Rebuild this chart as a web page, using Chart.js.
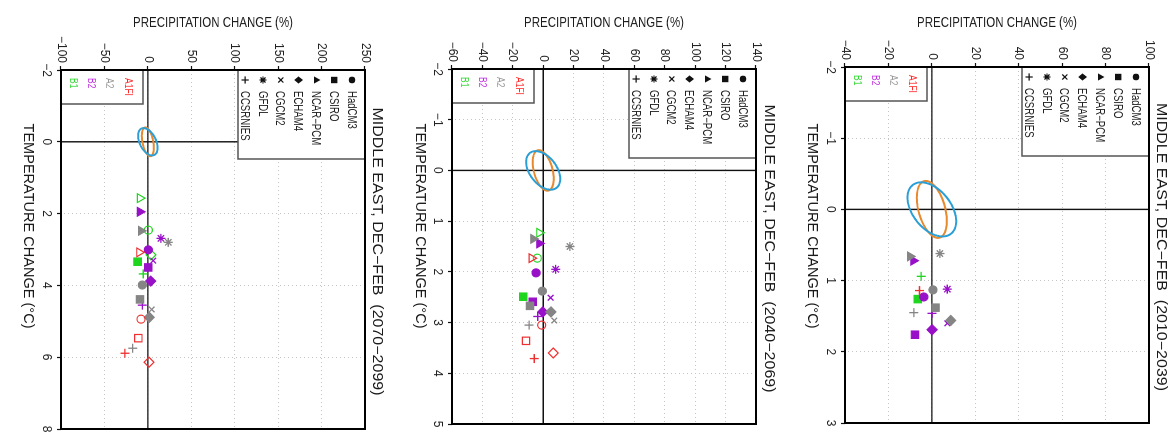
<!DOCTYPE html>
<html><head><meta charset="utf-8">
<script src="https://cdn.jsdelivr.net/npm/chart.js@4.4.1/dist/chart.umd.min.js"></script>
<style>
html,body{margin:0;padding:0;background:#fff;}
#wrap{position:relative;width:1176px;height:439px;overflow:hidden;background:#fff;}
.panel{position:absolute;top:0;width:392px;height:439px;}
.panel canvas{position:absolute;left:0;top:0;transform-origin:0 0;transform:translate(392px,0) rotate(90deg);}
</style></head><body>
<div id="wrap">
<div class="panel" style="left:0px"><canvas id="c1" width="439" height="392"></canvas></div>
<div class="panel" style="left:392px"><canvas id="c2" width="439" height="392"></canvas></div>
<div class="panel" style="left:784px"><canvas id="c3" width="439" height="392"></canvas></div>
</div>
<script>
// ---------- DATA ----------
const MODELS = ['HadCM3','CSIRO','NCAR−PCM','ECHAM4','CGCM2','GFDL','CCSRNIES'];
const SCENARIOS = ['A1FI','A2','B2','B1'];
const PERIODS = ['2070−2099','2040−2069','2010−2039'];
const REGION = 'MIDDLE EAST, DEC−FEB';

// axis ticks
const TEMP_TICKS_2070 = [-2,0,2,4,6,8];
const PRECIP_TICKS_2070 = [-100,-50,0,50,100,150,200,250];
const TEMP_TICKS_2040 = [-2,-1,0,1,2,3,4,5];
const PRECIP_TICKS_2040 = [-60,-40,-20,0,20,40,60,80,100,120,140];
const TEMP_TICKS_2010 = [-2,-1,0,1,2,3];
const PRECIP_TICKS_2010 = [-40,-20,0,20,40,60,80,100];

// values per model (order of MODELS); null = not plotted
// 2070-2099
const P2070_A1FI = [-7.9, -11.0, -9.9, 1.3, null, null, -26.4];
const T2070_A1FI = [4.94, 5.47, 3.08, 6.14, null, null, 5.89];
const P2070_A2   = [-6.4, -9.1, -7.9, 1.6, 4.4, 23.5, -17.5];
const T2070_A2   = [3.99, 4.39, 2.48, 4.89, 4.67, 2.80, 5.75];
const P2070_B2   = [0.5, 0.5, -9.1, 3.2, 6.2, 15.1, -6.4];
const T2070_B2   = [3.01, 3.50, 1.95, 3.88, 3.31, 2.69, 4.55];
const P2070_B1   = [0.5, -11.8, -9.1, 3.6, null, null, -5.3];
const T2070_B1   = [2.46, 3.34, 1.57, 3.15, null, null, 3.68];
// 2040-2069
const P2040_A1FI = [-1.0, -11.3, -7.6, 6.6, null, null, -5.9];
const T2040_A1FI = [3.05, 3.36, 1.73, 3.60, null, null, 3.71];
const P2040_A2   = [-0.6, -8.7, -6.5, 5.1, 7.3, 17.6, -9.3];
const T2040_A2   = [2.38, 2.67, 1.35, 2.79, 2.96, 1.50, 3.05];
const P2040_B2   = [-4.7, -6.9, -2.6, -0.3, 4.9, 8.2, -3.6];
const T2040_B2   = [2.02, 2.59, 1.44, 2.79, 2.51, 1.95, 2.88];
const P2040_B1   = [-3.9, -13.1, -2.6, null, null, null, null];
const T2040_B1   = [1.73, 2.49, 1.23, null, null, null, null];
// 2010-2039
const P2010_A1FI = [null, null, null, null, null, null, -5.7];
const T2010_A1FI = [null, null, null, null, null, null, 1.14];
const P2010_A2   = [0.5, 1.7, -10.0, 8.7, null, 3.7, -8.3];
const T2010_A2   = [1.13, 1.38, 0.66, 1.56, null, 0.62, 1.45];
const P2010_B2   = [-3.7, -7.8, -8.5, 0.1, 7.1, 7.1, 0.1];
const T2010_B2   = [1.23, 1.76, 0.72, 1.69, 1.60, 1.12, 1.46];
const P2010_B1   = [null, -6.5, null, null, null, null, -4.9];
const T2010_B1   = [null, 1.26, null, null, null, null, 0.94];

// natural-variability ellipses (orange, blue): half-ranges in data units and phase
const ELLIPSE_PRECIP_HALF = [6.9, 11.2];
const ELLIPSE_TEMP_HALF = [0.40, 0.38];
const ELLIPSE_PHASE_DEG = [66, 64];

// ---------- STYLE ----------
const FONT = "'Liberation Sans', Arial, sans-serif";
const SCEN_COLOR = {A1FI:'#ee3030', A2:'#858585', B2:'#9810c8', B1:'#1fd61f'};
const SCEN_TEXT_COLOR = {A1FI:'#ff2a2a', A2:'#9a9a9a', B2:'#c030e0', B1:'#30d830'};
const STYLES = ['circle','rect','triangle','rectRot','crossRot','star','cross'];
const RADII = [4, 5.2, 5, 5, 4, 4.5, 4.5];
const ELLIPSE_COLORS = ['#e8892e', '#2a9fd6'];

function dataset(scen, P, T) {
  const pts = [];
  P.forEach((p, i) => { if (p !== null && T[i] !== null) pts.push({x: T[i], y: p, m: i}); });
  const col = SCEN_COLOR[scen];
  const fill = pts.map(d => {
    if (scen === 'A1FI') return 'rgba(255,255,255,0)';
    if (scen === 'B1' && d.m !== 1) return 'rgba(255,255,255,0)';
    return col;
  });
  return {
    label: scen, data: pts,
    pointStyle: pts.map(d => STYLES[d.m]),
    pointRadius: pts.map(d => RADII[d.m]),
    pointBackgroundColor: fill,
    pointBorderColor: col,
    pointBorderWidth: pts.map(d => (STYLES[d.m].startsWith('cross') || STYLES[d.m]==='star') ? 1.3 : 1.2),
    showLine: false
  };
}

function drawMarker(ctx, style, x, y, r) {
  ctx.beginPath();
  if (style === 'circle') { ctx.arc(x, y, r, 0, Math.PI*2); ctx.fill(); }
  else if (style === 'rect') { ctx.rect(x-r, y-r, 2*r, 2*r); ctx.fill(); }
  else if (style === 'triangle') { ctx.moveTo(x, y-r*1.15); ctx.lineTo(x+r, y+r*0.7); ctx.lineTo(x-r, y+r*0.7); ctx.closePath(); ctx.fill(); }
  else if (style === 'rectRot') { ctx.moveTo(x, y-r*1.2); ctx.lineTo(x+r, y); ctx.lineTo(x, y+r*1.2); ctx.lineTo(x-r, y); ctx.closePath(); ctx.fill(); }
  else {
    const arms = style === 'cross' ? [0] : style === 'crossRot' ? [45] : [0, 45];
    arms.forEach(a => {
      for (const b of [a, a+90]) {
        const rad = b*Math.PI/180, dx = Math.cos(rad)*r, dy = Math.sin(rad)*r;
        ctx.moveTo(x-dx, y-dy); ctx.lineTo(x+dx, y+dy);
      }
    });
    ctx.stroke();
  }
}

function fitText(ctx, text, cx, cy, font, targetW, rot, align) {
  ctx.save();
  ctx.font = font;
  const w = ctx.measureText(text).width;
  ctx.translate(cx, cy);
  if (rot) ctx.rotate(rot);
  ctx.scale(targetW / w, 1);
  ctx.textAlign = align || 'center';
  ctx.textBaseline = 'middle';
  ctx.fillText(text, 0, 0);
  ctx.restore();
}

const deco = {
  id: 'deco',
  beforeDatasetsDraw(chart) {
    const {ctx, chartArea: a, scales: {x, y}} = chart;
    ctx.save();
    // zero lines
    ctx.strokeStyle = '#111'; ctx.lineWidth = 1.4; ctx.setLineDash([]);
    const x0 = x.getPixelForValue(0), y0 = y.getPixelForValue(0);
    ctx.beginPath();
    ctx.moveTo(x0, a.top); ctx.lineTo(x0, a.bottom);
    ctx.moveTo(a.left, y0); ctx.lineTo(a.right, y0);
    ctx.stroke();
    // ellipses
    ELLIPSE_PRECIP_HALF.forEach((ph, k) => {
      const th = ELLIPSE_TEMP_HALF[k], phi = ELLIPSE_PHASE_DEG[k]*Math.PI/180;
      ctx.strokeStyle = ELLIPSE_COLORS[k]; ctx.lineWidth = 2;
      ctx.beginPath();
      for (let i = 0; i <= 120; i++) {
        const t = i/120*Math.PI*2;
        const px = x.getPixelForValue(th*Math.cos(t+phi));
        const py = y.getPixelForValue(ph*Math.cos(t));
        if (i === 0) ctx.moveTo(px, py); else ctx.lineTo(px, py);
      }
      ctx.closePath(); ctx.stroke();
    });
    // model legend box
    const bw = 89, bh = 127;
    ctx.fillStyle = '#fff'; ctx.fillRect(a.left, a.top, bw, bh);
    ctx.strokeStyle = '#555'; ctx.lineWidth = 1.5;
    ctx.strokeRect(a.left, a.top, bw, bh);
    MODELS.forEach((m, i) => {
      const vy = a.top + 13 + i*17.8;
      ctx.fillStyle = '#111'; ctx.strokeStyle = '#111'; ctx.lineWidth = 1.2;
      const r = STYLES[i]==='circle' ? 3.3 : STYLES[i]==='rect' ? 3.2 : 3.6;
      drawMarker(ctx, STYLES[i], a.left + 10, vy, r);
      ctx.save();
      ctx.font = '12px ' + FONT; ctx.fillStyle = '#222';
      ctx.translate(a.left + 21, vy); ctx.scale(0.8, 1);
      ctx.textAlign = 'left'; ctx.textBaseline = 'middle';
      ctx.fillText(m, 0, 1);
      ctx.restore();
    });
    // scenario legend box
    const sh = 82, sw = 34;
    ctx.fillStyle = '#fff'; ctx.fillRect(a.left, a.bottom - sh, sw, sh);
    ctx.strokeStyle = '#555'; ctx.lineWidth = 1.5;
    ctx.strokeRect(a.left, a.bottom - sh, sw, sh);
    const offs = [67, 48, 30, 12];
    SCENARIOS.forEach((s, i) => {
      ctx.save();
      ctx.font = '10px ' + FONT; ctx.fillStyle = SCEN_TEXT_COLOR[s];
      ctx.translate(a.left + 8, a.bottom - offs[i]); ctx.scale(0.85, 1);
      ctx.textAlign = 'left'; ctx.textBaseline = 'middle';
      ctx.fillText(s, 0, 0);
      ctx.restore();
    });
    ctx.restore();
  },
  afterDraw(chart) {
    const {ctx, chartArea: a} = chart;
    const period = chart.options.plugins.deco.period;
    ctx.save();
    ctx.strokeStyle = '#000'; ctx.lineWidth = 2; ctx.setLineDash([]);
    ctx.strokeRect(a.left, a.top, a.right - a.left, a.bottom - a.top);
    ctx.fillStyle = '#1a1a1a';
    fitText(ctx, REGION + '  (' + period + ')', (a.left + a.right)/2 + 2, 15.5, '14px ' + FONT, 288);
    fitText(ctx, 'PRECIPITATION CHANGE (%)', 22.5, (a.top + a.bottom)/2, '15px ' + FONT, 160, -Math.PI/2);
    fitText(ctx, 'TEMPERATURE CHANGE (°C)', 226, 364, '15px ' + FONT, 205);
    ctx.restore();
  }
};

function makeChart(id, period, tempTicks, precipTicks, sets, area) {
  const fmt = v => String(v).replace('-', '−');
  new Chart(document.getElementById(id), {
    type: 'scatter',
    data: { datasets: sets },
    options: {
      responsive: false, animation: false, devicePixelRatio: 1,
      events: [],
      layout: { padding: { left: 0, top: area.top, right: 439 - area.right, bottom: 0 } },
      plugins: { legend: {display: false}, tooltip: {enabled: false}, title: {display: false},
                 deco: { period } },
      scales: {
        x: {
          type: 'linear', position: 'bottom',
          min: tempTicks[0], max: tempTicks[tempTicks.length-1],
          afterBuildTicks: s => { s.ticks = tempTicks.map(v => ({value: v})); },
          afterFit: s => { s.height = 392 - area.bottom; },
          ticks: { callback: fmt, color: '#222', font: {family: FONT, size: 12}, padding: 3,
                   maxRotation: 0, minRotation: 0, autoSkip: false },
          grid: { color: '#c4c4c4', lineWidth: 1, drawTicks: true, tickLength: 4,
                  tickColor: '#111', tickWidth: 1.2, tickBorderDash: [] },
          border: { display: false, dash: [1, 3] }
        },
        y: {
          type: 'linear', position: 'left',
          min: precipTicks[0], max: precipTicks[precipTicks.length-1],
          afterBuildTicks: s => { s.ticks = precipTicks.map(v => ({value: v})); },
          afterFit: s => { s.width = area.left; },
          ticks: { callback: fmt, color: '#222', font: {family: FONT, size: 12}, padding: 3, autoSkip: false },
          grid: { color: '#c4c4c4', lineWidth: 1, drawTicks: true, tickLength: 4,
                  tickColor: '#111', tickWidth: 1.2, tickBorderDash: [] },
          border: { display: false, dash: [1, 3] }
        }
      }
    },
    plugins: [deco]
  });
}

makeChart('c1', PERIODS[0], TEMP_TICKS_2070, PRECIP_TICKS_2070, [
  dataset('A1FI', P2070_A1FI, T2070_A1FI), dataset('A2', P2070_A2, T2070_A2),
  dataset('B2', P2070_B2, T2070_B2), dataset('B1', P2070_B1, T2070_B1)
], {left: 70, right: 429, top: 27, bottom: 331});

makeChart('c2', PERIODS[1], TEMP_TICKS_2040, PRECIP_TICKS_2040, [
  dataset('A1FI', P2040_A1FI, T2040_A1FI), dataset('A2', P2040_A2, T2040_A2),
  dataset('B2', P2040_B2, T2040_B2), dataset('B1', P2040_B1, T2040_B1)
], {left: 69, right: 424, top: 28, bottom: 332});

makeChart('c3', PERIODS[2], TEMP_TICKS_2010, PRECIP_TICKS_2010, [
  dataset('A1FI', P2010_A1FI, T2010_A1FI), dataset('A2', P2010_A2, T2010_A2),
  dataset('B2', P2010_B2, T2010_B2), dataset('B1', P2010_B1, T2010_B1)
], {left: 67, right: 423, top: 27, bottom: 331});
</script>
</body></html>
